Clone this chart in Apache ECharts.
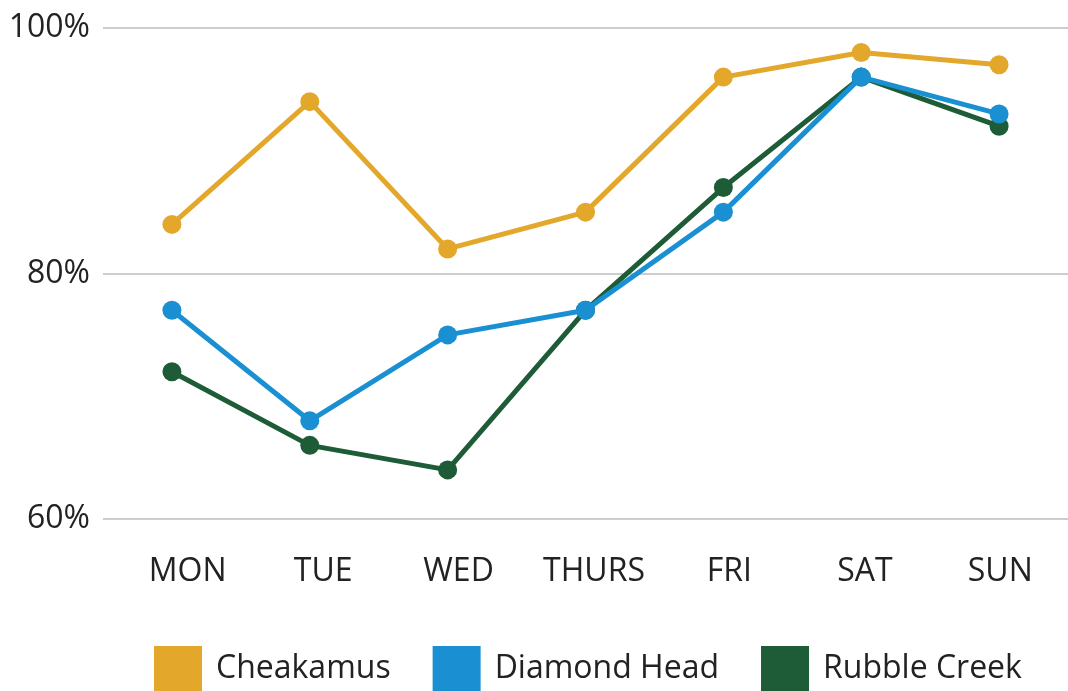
<!DOCTYPE html>
<html><head><meta charset="utf-8">
<script src="https://cdn.jsdelivr.net/npm/echarts@6/dist/echarts.min.js"></script>
<style>html,body{margin:0;padding:0;background:#fff;overflow:hidden}#c{width:1068px;height:691px}</style>
</head><body><div id="c"></div>
<script>
const categories = ['MON','TUE','WED','THURS','FRI','SAT','SUN'];
const cheakamus = [84, 94, 82, 85, 96, 98, 97];
const diamondHead = [77, 68, 75, 77, 85, 96, 93];
const rubbleCreek = [72, 66, 64, 77, 87, 96, 92];
const yTicks = [60, 80, 100];
const names = ['Cheakamus','Diamond Head','Rubble Creek'];
const colors = ['#E3A72C','#1A90D2','#1E5C38'];

const chart = echarts.init(document.getElementById('c'));
const font = '"Open Sans", "Noto Sans", sans-serif';
function mk(name, data, color, z){
  return {name, type:'line', data, color, z, symbol:'circle', symbolSize:19,
    xAxisIndex:0, yAxisIndex:0,
    lineStyle:{width:5,color}, itemStyle:{color}};
}
chart.setOption({
  animation:false,
  textStyle:{fontFamily:font},
  grid:[
    {left:103, right:-4, top:28, bottom:172, containLabel:false},
    {left:120, right:-10, top:28, bottom:172, containLabel:false}
  ],
  legend:{bottom:-6, left:149, itemWidth:48, itemHeight:46, itemGap:42, icon:'rect',
    textStyle:{fontSize:32, color:'#222', fontFamily:font, padding:[0,0,0,9]},
    data:names},
  xAxis:[
    {type:'category', gridIndex:0, data:categories, boundaryGap:true,
      axisLine:{show:false}, axisTick:{show:false}, axisLabel:{show:false}},
    {type:'category', gridIndex:1, data:categories, boundaryGap:true,
      axisLine:{show:false}, axisTick:{show:false},
      axisLabel:{fontSize:32, color:'#222', margin:37, fontFamily:font}}
  ],
  yAxis:[
    {type:'value', gridIndex:0, min:60, max:100, interval:20,
      axisLine:{show:false}, axisTick:{show:false},
      axisLabel:{fontSize:32, color:'#222', margin:13, fontFamily:font,
        formatter:v=> yTicks.includes(v) ? v+'%' : ''},
      splitLine:{lineStyle:{color:'#bdbdbd', width:1.5}}},
    {type:'value', gridIndex:1, min:60, max:100, show:false, splitLine:{show:false}}
  ],
  series:[mk(names[0],cheakamus,colors[0],2), mk(names[2],rubbleCreek,colors[2],3), mk(names[1],diamondHead,colors[1],4)]
});
</script></body></html>
